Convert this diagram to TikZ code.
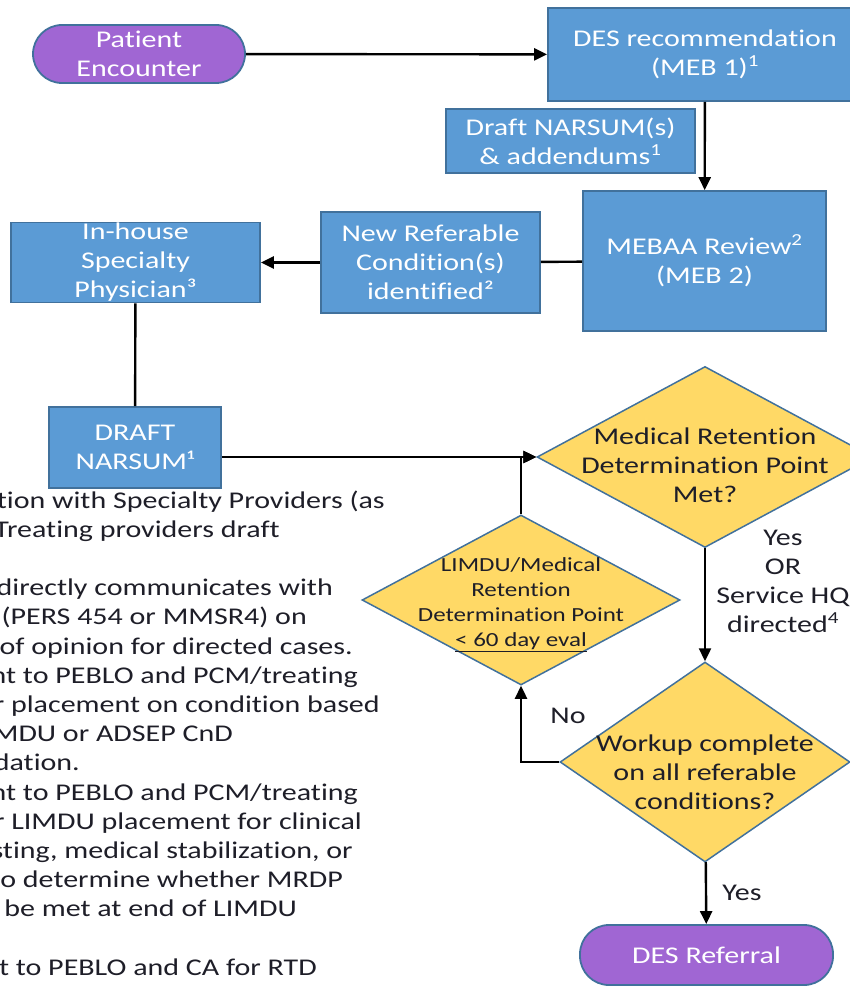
\documentclass[tikz,border=0pt]{standalone}
\usepackage{fontspec}
\setmainfont{Carlito}[FakeStretch=1.25,Ligatures=NoCommon]
\usetikzlibrary{shapes.geometric,arrows.meta}
\definecolor{boxblue}{HTML}{5B9BD5}
\definecolor{edgeblue}{HTML}{41719C}
\definecolor{pillpurple}{HTML}{A066D3}
\definecolor{decyellow}{HTML}{FFD966}
\definecolor{inkdark}{HTML}{1E1E28}
\tikzset{
  bluebox/.style={draw=edgeblue, line width=1.8pt, fill=boxblue, text=white, align=center, inner sep=0pt, font=\fontsize{24}{29}\selectfont},
  pill/.style={bluebox, fill=pillpurple, rounded corners=29pt},
  decision/.style={diamond, draw=edgeblue, line width=1.5pt, fill=decyellow, inner sep=0pt},
  dtext/.style={align=center, text=inkdark, inner sep=0pt, font=\fontsize{24}{29}\selectfont},
  note/.style={anchor=base east, text=inkdark, inner sep=0pt, font=\fontsize{24}{29}\selectfont},
  conn/.style={line width=2.4pt, black},
  arr/.style={conn, -{Triangle[length=13pt,width=12pt]}}
}
\begin{document}
\begin{tikzpicture}[x=1pt,y=-1pt]
\useasboundingbox (0,0) rectangle (850,987);
\clip (0,0) rectangle (850,987);
\node[pill, minimum width=212pt, minimum height=58pt] (pe) at (139,54) {Patient\\Encounter};
\node[bluebox, minimum width=314pt, minimum height=93pt] (des) at (705,54.5) {DES recommendation\\(MEB 1)\textsuperscript{1}};
\node[bluebox, minimum width=249pt, minimum height=64pt] (narsum) at (570.5,141) {Draft NARSUM(s)\\\& addendums\textsuperscript{1}};
\node[bluebox, minimum width=243pt, minimum height=140pt] (mebaa) at (704.5,261) {MEBAA Review\textsuperscript{2}\\(MEB 2)};
\node[bluebox, minimum width=219pt, minimum height=101pt] (newref) at (430.5,262.5) {New Referable\\Condition(s)\\identified²};
\node[bluebox, minimum width=249pt, minimum height=80pt] (inhouse) at (135.5,262.5) {In-house\\Specialty\\Physician³};
\node[bluebox, minimum width=172pt, minimum height=81pt] (draft) at (135,447.5) {DRAFT\\NARSUM¹};
\node[decision, minimum width=336pt, minimum height=181pt] (mrdp) at (705,457) {};
\node[dtext] (mrdptext) at (705,465) {Medical Retention\\Determination Point\\Met?};
\node[decision, minimum width=318pt, minimum height=170pt] (limdu) at (521,600) {};
\node[dtext, font=\fontsize{20}{25}\selectfont] (limdutext) at (521,605) {LIMDU/Medical\\Retention\\Determination Point\\\underline{< 60 day eval}};
\node[decision, minimum width=290pt, minimum height=200pt] (workup) at (705,762) {};
\node[dtext] (workuptext) at (705,772) {Workup complete\\on all referable\\conditions?};
\node[pill, minimum width=253pt, minimum height=60pt] (desref) at (706.5,955) {DES Referral};
\node[dtext] (yeshq) at (783,581) {Yes\\OR\\Service HQ\\directed\textsuperscript{4}};
\node[dtext] (no) at (568,716) {No};
\node[dtext] (yes) at (742,893) {Yes};
\draw[arr] (pe) -- (des);
\draw[arr] (des) -- (mebaa);
\draw[conn] (mebaa) -- (newref);
\draw[arr] (newref) -- (inhouse);
\draw[conn] (inhouse) -- (draft);
\draw[arr] (draft.east |- mrdp.west) -- (mrdp.west);
\draw[arr] (limdu.north) |- (mrdp.west);
\draw[arr] (mrdp) -- (workup);
\draw[arr] (workup.west) -| (limdu.south);
\draw[arr] (workup) -- (desref);
\node[note] (l1) at (385,508) {ation with Specialty Providers (as};
\node[note] (l2) at (280,537) {Treating providers draft};
\node[note] (l4) at (333,595.6) {directly communicates with};
\node[note] (l5) at (307,624.8) {(PERS 454 or MMSR4) on};
\node[note] (l6) at (353,654) {of opinion for directed cases.};
\node[note] (l7) at (358,683.2) {nt to PEBLO and PCM/treating};
\node[note] (l8) at (380,712.4) {r placement on condition based};
\node[note] (l9) at (233,741.6) {MDU or ADSEP CnD};
\node[note] (l10) at (80,770.8) {dation.};
\node[note] (l11) at (358,800) {nt to PEBLO and PCM/treating};
\node[note] (l12) at (362,829.2) {r LIMDU placement for clinical};
\node[note] (l13) at (353,858.4) {sting, medical stabilization, or};
\node[note] (l14) at (343,887.6) {to determine whether MRDP};
\node[note] (l15) at (297,916.8) {be met at end of LIMDU};
\node[note] (l17) at (317,975.2) {t to PEBLO and CA for RTD};
\end{tikzpicture}
\end{document}
